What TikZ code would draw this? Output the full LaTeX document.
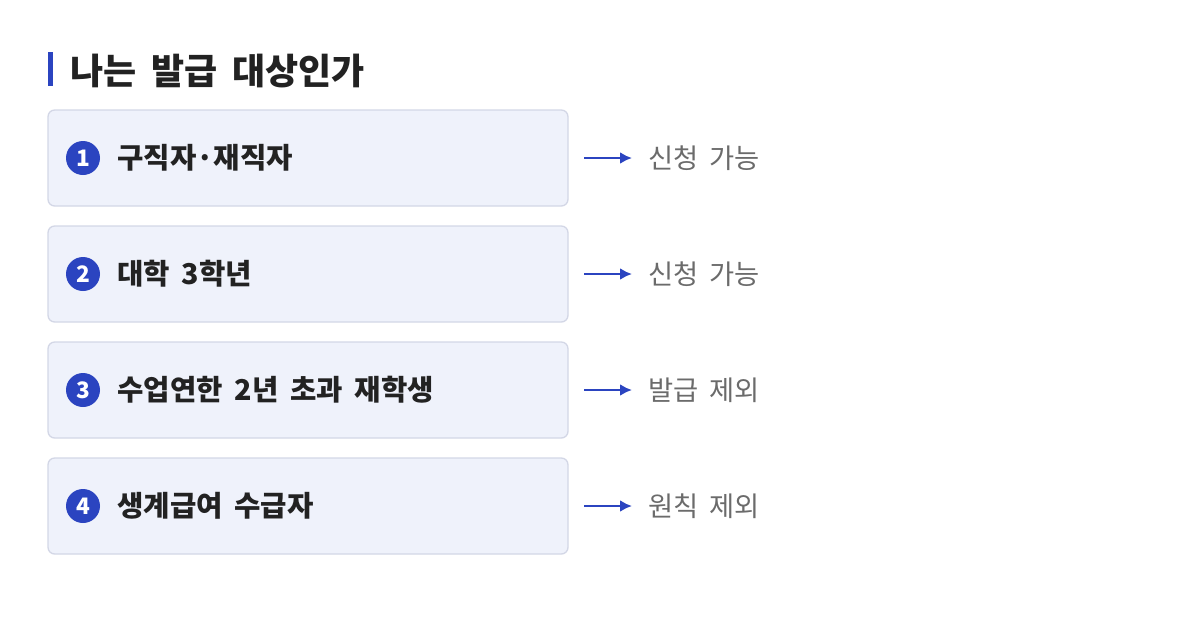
\documentclass[tikz,border=0pt]{standalone}
\usepackage{fontspec}
\setmainfont{Noto Sans CJK KR}[WordSpace={1.8}]
\begin{document}
\begin{tikzpicture}[x=0.75pt,y=-0.75pt,
 box/.style={draw=boxline,fill=boxfill,rounded corners=5pt,line width=1pt},
 num/.style={circle,fill=accent,text=white,minimum size=25.5pt,inner sep=0pt,font=\fontsize{17}{17}\selectfont\bfseries},
 item/.style={anchor=west,text=ink,inner sep=0pt,font=\fontsize{21.5}{22}\selectfont\bfseries},
 res/.style={anchor=west,text=gray1,inner sep=0pt,font=\fontsize{20.5}{22}\selectfont},
 arr/.style={draw=accent,line width=2pt,-{Latex[length=9pt,width=9pt]}}]
\usetikzlibrary{arrows.meta}
\definecolor{accent}{HTML}{2B44C0}
\definecolor{boxfill}{HTML}{EFF2FB}
\definecolor{boxline}{HTML}{D3D7E6}
\definecolor{ink}{HTML}{222222}
\definecolor{gray1}{HTML}{6B6B6B}
\useasboundingbox (0,0) rectangle (1200,622);
\fill[accent] (48,52) rectangle (53,86);
\node[anchor=west,inner sep=0pt,text=ink,font=\fontsize{27}{28}\selectfont\bfseries] (title) at (70,71) {나는 발급 대상인가};
\foreach \i/\t/\r [count=\k] in {158/구직자·재직자/신청 가능,274/대학 3학년/신청 가능,390/수업연한 2년 초과 재학생/발급 제외,506/생계급여 수급자/원칙 제외}{
 \draw[box] (48,\i-48) rectangle (568,\i+48);
 \node[num] (n\k) at (83,\i) {\k};
 \node[item] (t\k) at (117,\i) {\t};
 \coordinate (a\k) at (584,\i);
 \node[res] (r\k) at (648,\i) {\r};
 \draw[arr] (a\k) -- ([xshift=-12pt]r\k.west);
}
\end{tikzpicture}
\end{document}
